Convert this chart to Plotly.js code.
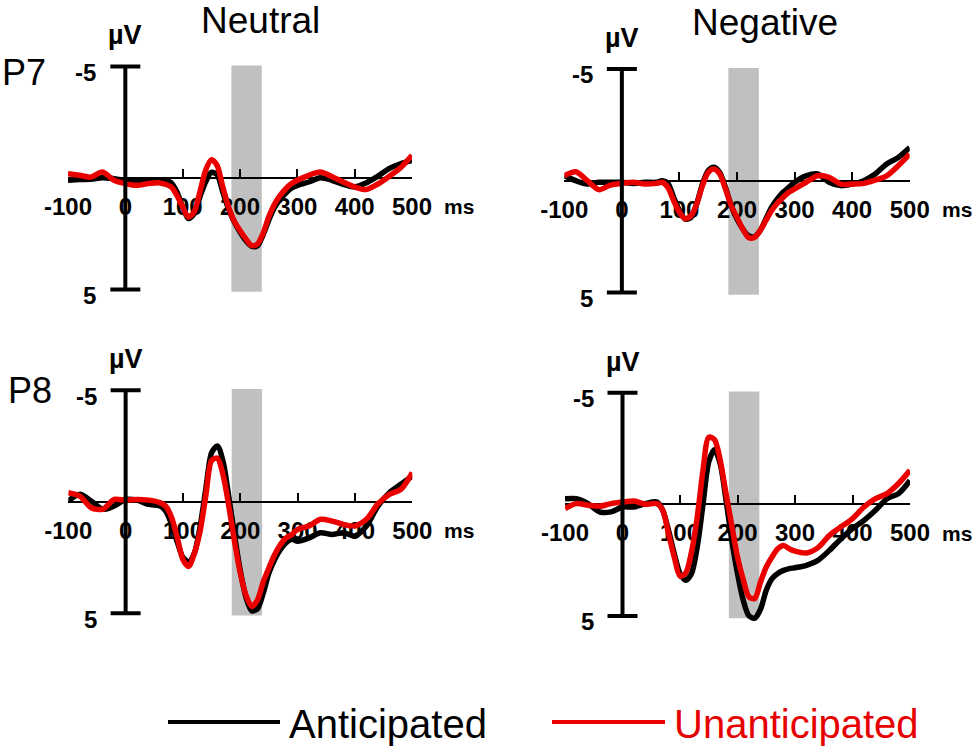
<!DOCTYPE html>
<html>
<head>
<meta charset="utf-8">
<script src="https://cdn.plot.ly/plotly-3.0.1.min.js"></script>
<style>
  html, body { margin: 0; padding: 0; background: #fff; }
  #plot { width: 975px; height: 755px; }
</style>
</head>
<body>
<div id="plot"></div>
<script>
// time points (ms)
var times = [-100,-80,-60,-40,-20,0,20,40,60,70,80,90,100,110,120,130,140,150,160,170,180,190,200,210,220,230,240,250,260,270,280,290,300,320,340,360,380,400,420,440,460,480,500]

// amplitudes in microvolts (negative plotted upwards)
var p7NeutralAnt   = [0.10,0.07,0.06,-0.01,0.03,0.10,0.10,0.10,0.10,0.10,0.22,0.63,1.30,1.82,1.60,0.85,0.18,-0.25,-0.15,0.63,1.38,1.97,2.42,2.80,3.06,3.05,2.57,1.90,1.33,0.96,0.67,0.45,0.33,0.18,-0.01,0.10,0.28,0.40,0.22,-0.07,-0.42,-0.64,-0.79]
var p7NeutralUnant = [-0.19,-0.12,-0.04,-0.27,0.10,0.25,0.33,0.25,0.22,0.28,0.40,0.78,1.30,1.75,1.52,0.63,-0.34,-0.82,-0.57,0.40,1.30,1.94,2.35,2.72,3.02,2.97,2.50,1.75,1.18,0.78,0.48,0.25,0.10,-0.12,-0.27,-0.07,0.18,0.40,0.52,0.28,-0.07,-0.46,-1.02]

var p7NegativeAnt   = [-0.22,0.00,0.15,0.07,0.07,0.07,0.12,0.07,0.07,0.00,0.12,0.75,1.34,1.72,1.64,1.04,0.15,-0.45,-0.60,-0.37,0.30,1.12,1.72,2.16,2.46,2.51,2.24,1.72,1.19,0.82,0.52,0.30,0.07,-0.22,-0.30,0.07,0.22,0.15,0.00,-0.30,-0.75,-1.04,-1.49]
var p7NegativeUnant = [-0.22,-0.40,0.00,0.40,0.20,0.12,0.07,0.15,0.12,0.07,0.30,0.90,1.42,1.70,1.57,1.04,0.22,-0.37,-0.52,-0.30,0.37,1.12,1.64,2.16,2.54,2.54,2.24,1.79,1.34,1.01,0.75,0.52,0.37,0.07,-0.22,-0.15,0.15,0.15,0.12,-0.03,-0.22,-0.67,-1.19]

var p8NeutralAnt   = [-0.03,-0.33,-0.03,0.34,0.19,-0.10,-0.07,0.12,0.19,0.42,1.00,1.80,2.50,2.70,2.30,1.10,-0.60,-2.20,-2.50,-1.80,-0.20,1.50,3.10,4.30,4.90,4.80,4.10,3.19,2.59,2.14,1.84,1.69,1.77,1.62,1.39,1.47,1.39,1.54,1.09,0.20,-0.40,-0.78,-1.15]
var p8NeutralUnant = [-0.40,-0.25,0.27,0.34,-0.10,-0.07,-0.10,-0.07,0.04,0.20,0.70,1.60,2.60,2.90,2.30,1.30,-0.30,-1.85,-1.95,-1.20,0.20,1.80,3.20,4.20,4.70,4.40,3.60,2.96,2.37,1.92,1.62,1.47,1.24,1.09,0.79,0.87,1.02,1.09,0.79,0.10,-0.33,-0.55,-1.30]

var p8NegativeAnt   = [-0.25,-0.25,-0.03,0.34,0.34,0.12,0.12,-0.03,-0.10,0.27,1.16,2.21,3.10,3.40,3.10,1.90,0.00,-1.90,-2.45,-1.80,-0.20,1.60,3.10,4.30,5.00,5.10,4.70,3.85,3.33,3.10,2.96,2.88,2.84,2.73,2.51,2.06,1.54,1.09,0.72,0.27,-0.25,-0.48,-1.07]
var p8NegativeUnant = [0.19,-0.03,0.04,0.09,-0.03,-0.10,-0.15,0.00,-0.03,0.27,1.31,2.36,3.22,3.07,2.13,0.57,-1.52,-3.00,-2.90,-1.97,-0.48,0.94,2.36,3.37,4.15,4.22,3.48,2.81,2.36,1.99,1.84,1.99,2.10,2.18,1.94,1.39,1.01,0.64,0.12,-0.25,-0.48,-0.93,-1.52]

var xTicks = [-100,0,100,200,300,400,500]
var seriesNames = ['Anticipated','Unanticipated']
var seriesColors = ['rgb(0,0,0)','rgb(235,0,0)']
var shadeWindow = [185,238]

// pixel anchors of each panel: where -100 ms and 500 ms fall, where 0 µV lies, px per µV
var panels = [
  {ant: p7NeutralAnt,  unant: p7NeutralUnant,  m100: 68,    p500: 412,   y0: 178,   s: 22.3},
  {ant: p7NegativeAnt, unant: p7NegativeUnant, m100: 564.3, p500: 909.7, y0: 180.7, s: 22.34},
  {ant: p8NeutralAnt,  unant: p8NeutralUnant,  m100: 68.3,  p500: 412.3, y0: 501.7, s: 22.3},
  {ant: p8NegativeAnt, unant: p8NegativeUnant, m100: 565,   p500: 910,   y0: 504.3, s: 22.33}
]

var W = 975, H = 755
var F = 'Liberation Sans, Arial, sans-serif'
var yLim = 5.8

var data = []
var layout = {
  width: W, height: H,
  margin: {l: 0, r: 0, t: 0, b: 0},
  paper_bgcolor: 'white', plot_bgcolor: 'rgba(0,0,0,0)',
  showlegend: false,
  font: {family: F, color: 'black'},
  shapes: [],
  annotations: []
}

panels.forEach(function (p, i) {
  var n = i === 0 ? '' : String(i + 1)
  var xa = 'x' + n, ya = 'y' + n

  // black first, red on top
  data.push({x: times, y: p.ant, xaxis: xa, yaxis: ya, type: 'scatter', mode: 'lines',
    name: seriesNames[0], line: {color: seriesColors[0], width: 5.5, shape: 'spline', smoothing: 0.8}})
  data.push({x: times, y: p.unant, xaxis: xa, yaxis: ya, type: 'scatter', mode: 'lines',
    name: seriesNames[1], line: {color: seriesColors[1], width: 5.5, shape: 'spline', smoothing: 0.8}})

  var top = p.y0 - yLim * p.s, bot = p.y0 + yLim * p.s
  layout['xaxis' + n] = {
    domain: [p.m100 / W, p.p500 / W],
    range: [-100, 500],
    anchor: 'free', position: 1 - p.y0 / H,
    showline: true, linecolor: 'black', linewidth: 2,
    ticks: 'inside', ticklen: 8, tickwidth: 2, tickcolor: 'black',
    tickvals: xTicks, ticktext: xTicks.map(String),
    tickfont: {family: F, size: 24, color: 'black', weight: 700},
    ticklabelstandoff: 7,
    showgrid: false, zeroline: false, layer: 'below traces', fixedrange: true
  }
  layout['yaxis' + n] = {
    domain: [1 - bot / H, 1 - top / H],
    range: [yLim, -yLim],
    visible: false, fixedrange: true
  }

  // shaded time window
  layout.shapes.push({type: 'rect', xref: xa, yref: ya, x0: shadeWindow[0], x1: shadeWindow[1],
    y0: -5.05, y1: 5.1, fillcolor: 'rgb(192,192,192)', line: {width: 0}, layer: 'below'})
  // vertical µV axis with end bars
  layout.shapes.push({type: 'line', xref: xa, yref: ya, x0: 0, x1: 0, y0: -5, y1: 5,
    line: {color: 'black', width: 4}, layer: 'above'})
  ;[-5, 5].forEach(function (v) {
    layout.shapes.push({type: 'line', xref: xa, yref: ya, xsizemode: 'pixel', xanchor: 0,
      x0: -15, x1: 15, y0: v, y1: v, line: {color: 'black', width: 4}, layer: 'above'})
    layout.annotations.push({xref: xa, yref: ya, x: 0, y: v, text: String(v), showarrow: false,
      xanchor: 'right', yanchor: 'middle', xshift: -27, yshift: -6,
      font: {family: F, size: 24, color: 'black', weight: 700}})
  })
  layout.annotations.push({xref: xa, yref: ya, x: 0, y: -5, text: 'µV', showarrow: false,
    xanchor: 'center', yanchor: 'middle', yshift: 31,
    font: {family: F, size: 27, color: 'black', weight: 700}})
  layout.annotations.push({xref: xa, yref: ya, x: 500, y: 0, text: 'ms', showarrow: false,
    xanchor: 'left', yanchor: 'middle', xshift: 30, yshift: -29,
    font: {family: F, size: 21, color: 'black', weight: 700}})
})

// column and row titles
function paperText(txt, px, py, size, anchor, color) {
  layout.annotations.push({xref: 'paper', yref: 'paper', x: px / W, y: 1 - py / H, text: txt,
    showarrow: false, xanchor: anchor, yanchor: 'middle',
    font: {family: F, size: size, color: color || 'black'}})
}
paperText('Neutral', 260, 20, 37, 'center')
paperText('Negative', 765, 22, 37, 'center')
paperText('P7', 0, 72, 36, 'left')
paperText('P8', 6, 390, 36, 'left')

// legend
layout.shapes.push({type: 'line', xref: 'paper', yref: 'paper', x0: 168 / W, x1: 280 / W,
  y0: 1 - 722 / H, y1: 1 - 722 / H, line: {color: seriesColors[0], width: 4}})
layout.shapes.push({type: 'line', xref: 'paper', yref: 'paper', x0: 552 / W, x1: 665 / W,
  y0: 1 - 722 / H, y1: 1 - 722 / H, line: {color: seriesColors[1], width: 4}})
paperText(seriesNames[0], 287, 724, 40, 'left')
paperText(seriesNames[1], 672, 724, 40, 'left', 'rgb(230,0,0)')

Plotly.newPlot('plot', data, layout, {displayModeBar: false, staticPlot: true})
</script>
</body>
</html>
